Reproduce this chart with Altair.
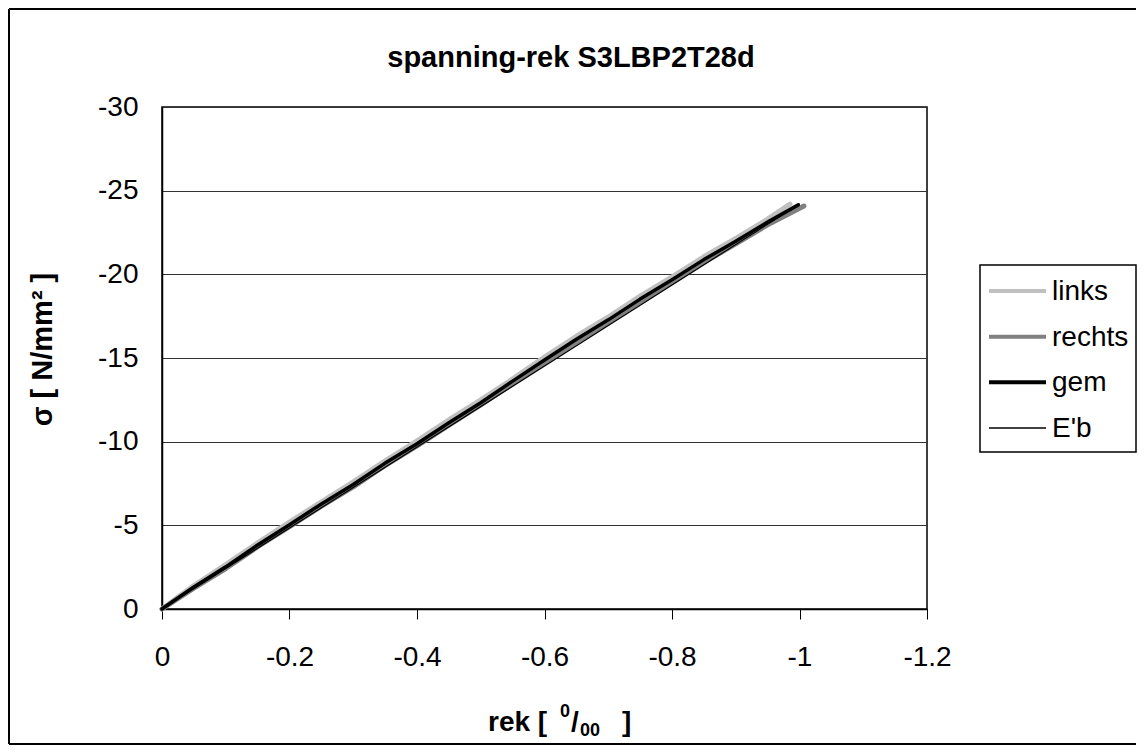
import altair as alt
import pandas as pd

# ---- data ----
series_names = ["links", "rechts", "gem", "E'b"]
series_colors = ["#c0c0c0", "#808080", "#000000", "#000000"]
series_widths = [5, 5, 3.5, 1.2]

links_rek = [0, -0.05, -0.10, -0.15, -0.20, -0.25, -0.30, -0.35, -0.40, -0.45, -0.50,
             -0.55, -0.60, -0.65, -0.70, -0.75, -0.80, -0.85, -0.90, -0.95, -0.985]
links_sigma = [0, -1.40, -2.65, -3.95, -5.20, -6.40, -7.60, -8.85, -10.05, -11.30, -12.50,
               -13.75, -15.05, -16.30, -17.45, -18.70, -19.85, -21.05, -22.15, -23.30, -24.20]

rechts_rek = [0, -0.05, -0.10, -0.15, -0.20, -0.25, -0.30, -0.35, -0.40, -0.45, -0.50,
              -0.55, -0.60, -0.65, -0.70, -0.75, -0.80, -0.85, -0.90, -0.95, -1.007]
rechts_sigma = [0, -1.25, -2.42, -3.72, -4.92, -6.15, -7.30, -8.58, -9.75, -10.98, -12.20,
                -13.48, -14.72, -15.95, -17.12, -18.36, -19.52, -20.72, -21.82, -22.96, -24.08]

gem_rek = [0, -0.05, -0.10, -0.15, -0.20, -0.25, -0.30, -0.35, -0.40, -0.45, -0.50,
           -0.55, -0.60, -0.65, -0.70, -0.75, -0.80, -0.85, -0.90, -0.95, -0.998]
gem_sigma = [0, -1.32, -2.52, -3.83, -5.04, -6.28, -7.44, -8.72, -9.88, -11.13, -12.33,
             -13.62, -14.88, -16.12, -17.28, -18.52, -19.68, -20.88, -21.98, -23.12, -24.15]

eb_rek = [0, -1.0]
eb_sigma = [0, -24.2]

x_ticks = [0, -0.2, -0.4, -0.6, -0.8, -1.0, -1.2]
y_ticks = [0, -5, -10, -15, -20, -25, -30]

rows = []
for name, w, xs, ys in [("links", series_widths[0], links_rek, links_sigma),
                        ("rechts", series_widths[1], rechts_rek, rechts_sigma),
                        ("gem", series_widths[2], gem_rek, gem_sigma),
                        ("E'b", series_widths[3], eb_rek, eb_sigma)]:
    for xv, yv in zip(xs, ys):
        rows.append({"serie": name, "w": w, "rek": xv, "sigma": yv})
df = pd.DataFrame(rows)

leg_df = pd.DataFrame({"serie": series_names, "w": [4, 4, 4, 1.3]})

W, H = 765, 502
FONT = "Liberation Sans"
label_expr = "datum.value == 0 ? '0' : '-' + format(abs(datum.value), '~g')"
color_scale = alt.Scale(domain=series_names, range=series_colors)

lines = alt.Chart(df).mark_line(strokeJoin="round", strokeCap="round").encode(
    x=alt.X("rek:Q",
            scale=alt.Scale(domain=[0, -1.2], nice=False, zero=False),
            axis=alt.Axis(values=x_ticks, title=None, labelExpr=label_expr, grid=False,
                          labelFlush=False, labelOverlap=False,
                          tickSize=10, tickColor="black", tickWidth=1,
                          labelPadding=24, domainColor="black", domainWidth=1.5)),
    y=alt.Y("sigma:Q",
            scale=alt.Scale(domain=[0, -30], nice=False, zero=False),
            axis=alt.Axis(values=y_ticks, title="σ [ N/mm² ]", labelExpr=label_expr,
                          labelFlush=False, labelOverlap=False,
                          grid=True, gridColor="#333333", gridWidth=1,
                          ticks=False, tickSize=0, labelPadding=24,
                          domainColor="black", domainWidth=1.5,
                          titleFont=FONT, titleFontSize=29, titleFontWeight="bold",
                          titleColor="black", titleAngle=270, titleX=-120, titleY=242,
                          titleAlign="center", titleBaseline="middle")),
    color=alt.Color("serie:N", scale=color_scale, legend=None),
    strokeWidth=alt.StrokeWidth("w:Q", scale=None),
)

one = pd.DataFrame({"k": [0]})


def txt(text, x, y, size, bold=True, align="left"):
    return alt.Chart(one).mark_text(
        text=text, fontSize=size, font=FONT,
        fontWeight="bold" if bold else "normal",
        align=align, baseline="alphabetic", color="black",
    ).encode(x=alt.value(x), y=alt.value(y))


def hline(x1, x2, y, w=2):
    return alt.Chart(one).mark_rule(color="black", strokeWidth=w).encode(
        x=alt.value(x1), x2=alt.value(x2), y=alt.value(y))


# outer chart frame (its right side runs off the picture)
frame_top = hline(-153, 974, -98)
frame_bottom = hline(-153, 974, 637)
frame_left = alt.Chart(one).mark_rule(color="black", strokeWidth=2).encode(
    x=alt.value(-153), y=alt.value(-98), y2=alt.value(637))

# legend
leg_y = alt.Y("serie:N", scale=alt.Scale(type="point", domain=series_names,
                                          range=[184, 321], padding=0), axis=None)
leg_box = alt.Chart(one).mark_rect(fill="white", stroke="black", strokeWidth=1.5).encode(
    x=alt.value(818), x2=alt.value(974), y=alt.value(158), y2=alt.value(345))
leg_sym = alt.Chart(leg_df).mark_rule().encode(
    x=alt.value(827), x2=alt.value(884), y=leg_y,
    color=alt.Color("serie:N", scale=color_scale, legend=None),
    strokeWidth=alt.StrokeWidth("w:Q", scale=None),
)
leg_lab = alt.Chart(leg_df).mark_text(
    align="left", baseline="middle", font=FONT, fontSize=28, color="black", dy=1,
).encode(x=alt.value(890), y=leg_y, text="serie:N")

title = txt("spanning-rek S3LBP2T28d", 409, -40, 29, align="center")
xt1 = txt("rek [", 326, 624, 28)
xt2 = txt("0", 398, 610, 18)
xt3 = txt("/", 409, 624, 28)
xt4 = txt("00", 418, 629, 18)
xt5 = txt("]", 460, 624, 28)

chart = alt.layer(
    frame_top, frame_bottom, frame_left, lines,
    leg_box, leg_sym, leg_lab,
    title, xt1, xt2, xt3, xt4, xt5,
).resolve_scale(y="independent").properties(
    width=W, height=H, padding=0,
).configure_view(
    stroke="black", strokeWidth=1.5,
).configure_axis(
    labelFont=FONT, labelFontSize=28, labelColor="black",
)

chart.save("out.html", embed_options={"renderer": "svg", "actions": False})
